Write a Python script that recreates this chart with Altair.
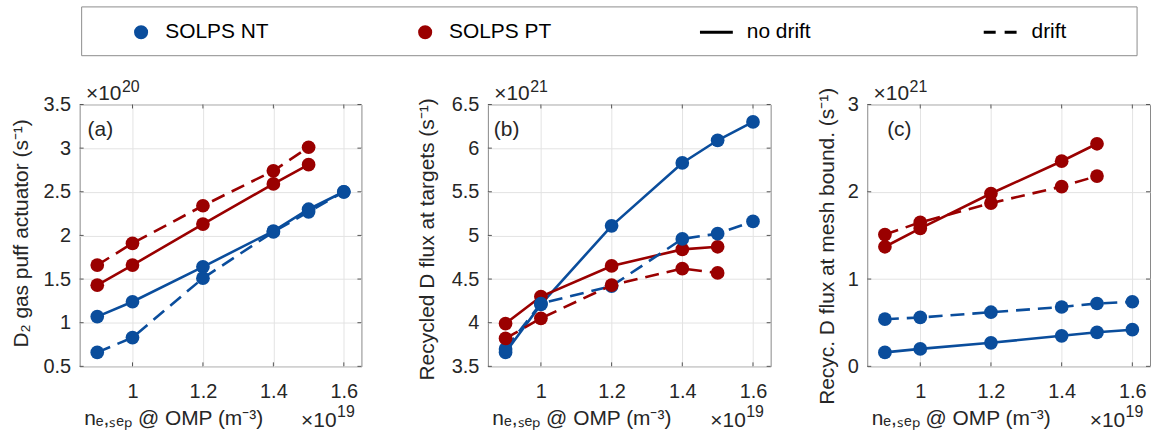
import altair as alt
import pandas as pd

FONT = "Liberation Sans"
BLUE = "#0A4D9C"
RED = "#9A0000"
TXT = "#262626"

# ---- data -------------------------------------------------------------
x_nt = [0.9, 1.0, 1.2, 1.4, 1.5, 1.6]
x_pt = [0.9, 1.0, 1.2, 1.4, 1.5]

a_nt_nodrift = [1.07, 1.24, 1.64, 2.05, 2.30, 2.50]
a_nt_drift = [0.66, 0.83, 1.51, 2.04, 2.27, 2.50]
a_pt_nodrift = [1.43, 1.66, 2.13, 2.59, 2.81]
a_pt_drift = [1.66, 1.91, 2.34, 2.74, 3.01]

b_nt_nodrift = [3.66, 4.21, 5.11, 5.83, 6.09, 6.30]
b_nt_drift = [3.70, 4.22, 4.42, 4.96, 5.02, 5.16]
b_pt_nodrift = [3.99, 4.30, 4.65, 4.84, 4.87]
b_pt_drift = [3.82, 4.05, 4.43, 4.62, 4.57]

c_nt_nodrift = [0.16, 0.20, 0.27, 0.35, 0.39, 0.42]
c_nt_drift = [0.54, 0.56, 0.62, 0.68, 0.72, 0.74]
c_pt_nodrift = [1.37, 1.58, 1.98, 2.35, 2.55]
c_pt_drift = [1.51, 1.65, 1.87, 2.06, 2.18]

x_ticks = [1.0, 1.2, 1.4, 1.6]
a_ticks = [0.5, 1.0, 1.5, 2.0, 2.5, 3.0, 3.5]
b_ticks = [3.5, 4.0, 4.5, 5.0, 5.5, 6.0, 6.5]
c_ticks = [0, 1, 2, 3]

legend_labels = ["SOLPS NT", "SOLPS PT", "no drift", "drift"]

X_TITLE = "nₑ,ₛₑₚ @ OMP (m⁻³)"
H = 263
PL = 10  # left padding of whole figure
TL = 4   # inward tick length

one = pd.DataFrame({"v": [0]})


def txt(s, x, y, size, align="left", baseline="alphabetic", color=TXT):
    return alt.Chart(one).mark_text(
        text=s, fontSize=size, font=FONT, color=color, align=align, baseline=baseline
    ).encode(x=alt.value(x), y=alt.value(y))


def make_panel(w, tag, tag_dx, ydomain, yticks, ytitle, ytitle_x, ytitle_y, exp_top, series):
    xs = alt.Scale(domain=[0.85, 1.65], nice=False, zero=False)
    ys = alt.Scale(domain=ydomain, nice=False, zero=False)
    xax = alt.Axis(values=x_ticks, format=".1~f", title=X_TITLE, titleX=4, titleY=58,
                   titleAlign="left", titleAnchor="start", titleBaseline="alphabetic",
                   labelPadding=15)
    yax = alt.Axis(values=yticks, format=".1~f", title=ytitle, titleX=ytitle_x,
                   titleY=ytitle_y, titleAngle=270, titleAlign="center",
                   titleBaseline="alphabetic")
    X = alt.X("x:Q", scale=xs, axis=xax)
    Y = alt.Y("y:Q", scale=ys, axis=yax)
    layers = []
    # inward ticks on all four sides (MATLAB style)
    xt = pd.DataFrame({"x": x_ticks})
    yt = pd.DataFrame({"y": yticks})
    tick_kw = dict(color="#555555", strokeWidth=1)
    layers += [
        alt.Chart(xt).mark_rule(**tick_kw).encode(x=X, y=alt.value(H), y2=alt.value(H - TL)),
        alt.Chart(xt).mark_rule(**tick_kw).encode(x=X, y=alt.value(0), y2=alt.value(TL)),
        alt.Chart(yt).mark_rule(**tick_kw).encode(y=Y, x=alt.value(0), x2=alt.value(TL)),
        alt.Chart(yt).mark_rule(**tick_kw).encode(y=Y, x=alt.value(w), x2=alt.value(w - TL)),
    ]
    for xv, yv, color, dashed in series:
        df = pd.DataFrame({"x": xv, "y": yv})
        kw = dict(color=color, strokeWidth=2.6)
        if dashed:
            kw["strokeDash"] = [14, 8]
        layers.append(alt.Chart(df).mark_line(**kw).encode(x=X, y=Y))
        layers.append(alt.Chart(df).mark_circle(color=color, size=190, opacity=1).encode(x=X, y=Y))
    layers += [
        txt("×10", 42, -5, 21, "right"),
        txt(exp_top, 42.5, -13, 16),
        txt("×10", w - 25, H + 61, 21, "right"),
        txt("19", w - 24.5, H + 51, 16),
        txt(tag, tag_dx, 32, 21),
    ]
    return alt.layer(*layers).properties(width=w, height=H)


pa = make_panel(283, "(a)", 8, [0.5, 3.5], a_ticks, "D₂ gas puff actuator (s⁻¹)", -52, 129, "20", [
    (x_nt, a_nt_nodrift, BLUE, False),
    (x_pt, a_pt_nodrift, RED, False),
    (x_nt, a_nt_drift, BLUE, True),
    (x_pt, a_pt_drift, RED, True),
])
pb = make_panel(284, "(b)", 6, [3.5, 6.5], b_ticks, "Recycled D flux at targets (s⁻¹)", -55, 135, "21", [
    (x_nt, b_nt_nodrift, BLUE, False),
    (x_pt, b_pt_nodrift, RED, False),
    (x_nt, b_nt_drift, BLUE, True),
    (x_pt, b_pt_drift, RED, True),
])
pc = make_panel(284, "(c)", 20, [0, 3], c_ticks, "Recyc. D flux at mesh bound. (s⁻¹)", -34, 142, "21", [
    (x_nt, c_nt_nodrift, BLUE, False),
    (x_pt, c_pt_nodrift, RED, False),
    (x_nt, c_nt_drift, BLUE, True),
    (x_pt, c_pt_drift, RED, True),
])

# ---- legend (origin shared with panel (a)'s plot origin, at x = 79) ----
A = 79
LY = 25.5
box = alt.Chart(one).mark_rect(fill="white", stroke="#8c8c8c", strokeWidth=1).encode(
    x=alt.value(81 - A), x2=alt.value(1141 - A), y=alt.value(0), y2=alt.value(49))
dot_nt = alt.Chart(one).mark_circle(color=BLUE, size=200, opacity=1).encode(
    x=alt.value(140.7 - A), y=alt.value(LY))
dot_pt = alt.Chart(one).mark_circle(color=RED, size=200, opacity=1).encode(
    x=alt.value(426 - A), y=alt.value(LY))
solid = alt.Chart(one).mark_rule(color="black", strokeWidth=3).encode(
    x=alt.value(702 - A), x2=alt.value(735 - A), y=alt.value(LY))
dashed = alt.Chart(one).mark_rule(color="black", strokeWidth=3, strokeDash=[12, 9]).encode(
    x=alt.value(987 - A), x2=alt.value(1022 - A), y=alt.value(LY))
legend = alt.layer(
    box, dot_nt, dot_pt, solid, dashed,
    txt(legend_labels[0], 165 - A, LY, 21, baseline="middle", color="black"),
    txt(legend_labels[1], 450 - A, LY, 21, baseline="middle", color="black"),
    txt(legend_labels[2], 749 - A, LY, 21, baseline="middle", color="black"),
    txt(legend_labels[3], 1035 - A, LY, 21, baseline="middle", color="black"),
).properties(width=1060, height=49, view=alt.ViewBackground(strokeOpacity=0))

panels = alt.hconcat(alt.hconcat(pa, pb, spacing=53), pc, spacing=44)

chart = alt.vconcat(legend, panels, spacing=21).properties(
    padding={"left": PL, "top": 5, "right": 2, "bottom": 0}
).configure_view(stroke="#888888", strokeWidth=1).configure_axis(
    labelFont=FONT, labelFontSize=20, labelColor=TXT, labelPadding=9,
    titleFont=FONT, titleFontSize=21, titleColor=TXT, titleFontWeight="normal",
    domain=False, ticks=False, tickSize=0, grid=True, gridColor="#e3e3e3", gridWidth=1,
)

chart.save("out.html", embed_options={"renderer": "svg", "actions": False})
